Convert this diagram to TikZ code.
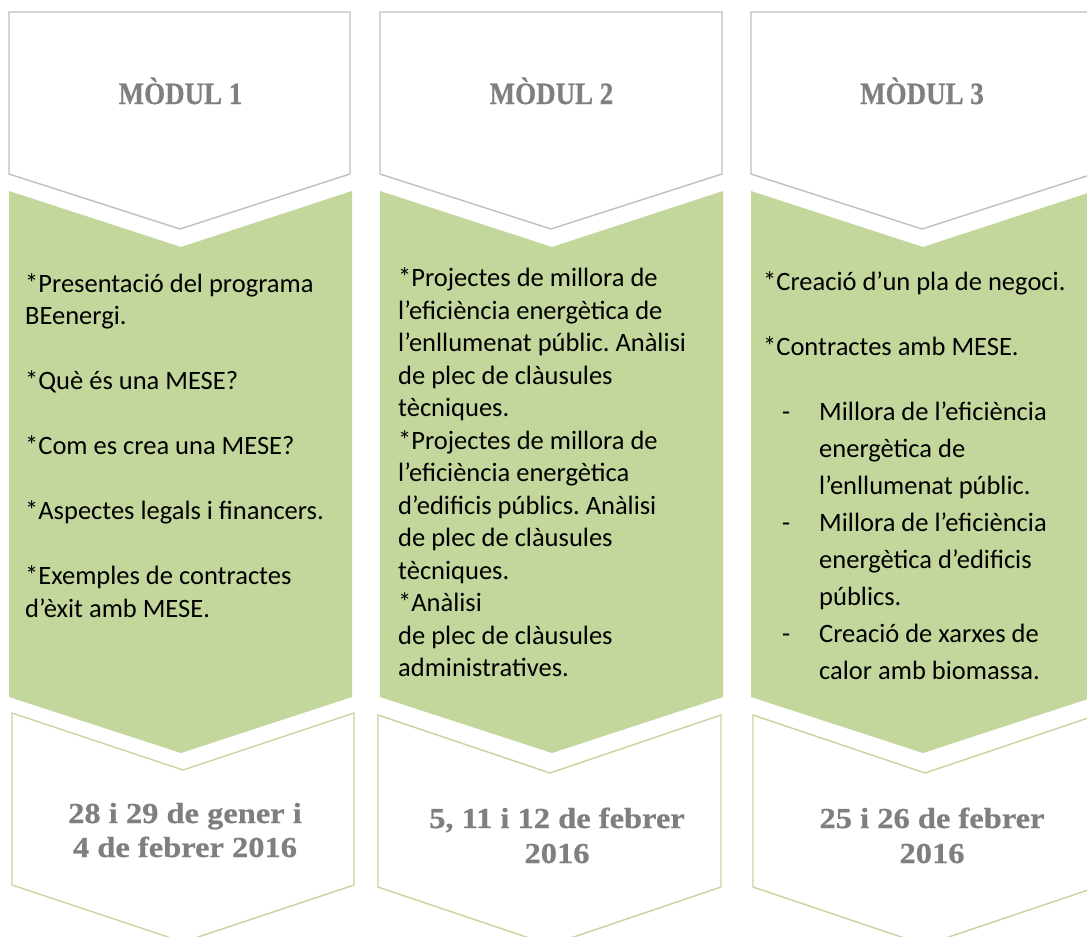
\documentclass[tikz,border=0pt]{standalone}
\usepackage{fontspec}
\setmainfont{Carlito}
\newfontfamily\headfont[FakeStretch=0.87,FakeBold=0.6]{Liberation Serif}
\newfontfamily\datefont[FakeStretch=1.12,FakeBold=0.6]{Liberation Serif}
\definecolor{grn}{HTML}{C3D69B}
\definecolor{gline}{HTML}{BFBFBF}
\definecolor{htext}{HTML}{7F7F7F}
\begin{document}
\frenchspacing
\begin{tikzpicture}[x=1pt,y=-1pt,
  topchev/.style={draw=gline, line width=1.4pt, fill=white},
  midchev/.style={fill=grn},
  botchev/.style={draw=grn, line width=1.4pt, fill=white},
  head/.style={font=\headfont\bfseries\fontsize{31}{36}\selectfont, text=htext, inner sep=0pt, anchor=base},
  datetext/.style={font=\datefont\bfseries\fontsize{29}{34}\selectfont, text=htext, inner sep=0pt, anchor=base},
  body/.style={font=\fontsize{26.5}{32.5}\selectfont, text=black, inner sep=0pt, anchor=base west}]
\useasboundingbox (0,0) rectangle (1087,937);
\fill[white] (0,0) rectangle (1087,937);

% top chevrons
\draw[topchev] (9,12) -- (350,12) -- (350,174) -- (180,229) -- (9,174) -- cycle;
\draw[topchev] (380,12) -- (722,12) -- (722,174) -- (551,229) -- (380,174) -- cycle;
\draw[topchev] (751,12) -- (1093,12) -- (1093,174) -- (922,229) -- (751,174) -- cycle;

% green chevrons
\fill[midchev] (9,191) -- (181,247) -- (352,191) -- (352,697) -- (181,753) -- (9,697) -- cycle;
\fill[midchev] (380,191) -- (552,247) -- (723,191) -- (723,697) -- (552,753) -- (380,697) -- cycle;
\fill[midchev] (751,191) -- (923,247) -- (1094,191) -- (1094,697) -- (923,753) -- (751,697) -- cycle;

% bottom chevrons
\draw[botchev] (12,713) -- (183,770) -- (354,713) -- (354,885) -- (183,942) -- (12,885) -- cycle;
\draw[botchev] (378,715) -- (550,773) -- (721,715) -- (721,887) -- (550,945) -- (378,887) -- cycle;
\draw[botchev] (753,715) -- (925,773) -- (1097,715) -- (1097,887) -- (925,945) -- (753,887) -- cycle;

% headings
\node[head] (h1) at (180.5,104) {MÒDUL 1};
\node[head] (h2) at (551.5,104) {MÒDUL 2};
\node[head] (h3) at (922,104) {MÒDUL 3};

% column 1
\foreach \t/\y [count=\i] in {*Presentació del programa/292, BEenergi./324.5, *Què és una MESE?/389.5, *Com es crea una MESE?/454.5, *Aspectes legals i financers./519.5, *Exemples de contractes/584.5, d’èxit amb MESE./617}
  \node[body] (a\i) at (25,\y) {\t};

% column 2
\foreach \t/\y [count=\i] in {*Projectes de millora de/286.7, l’eficiència energètica de/319.2, l’enllumenat públic. Anàlisi/351.7, de plec de clàusules/384.2, tècniques./416.7, *Projectes de millora de/449.2, l’eficiència energètica/481.7, d’edificis públics. Anàlisi/514.2, de plec de clàusules/546.7, tècniques./579.2, *Anàlisi/611.7, de plec de clàusules/644.2, administratives./676.7}
  \node[body] (b\i) at (398,\y) {\t};

% column 3
\node[body] (c1) at (763,290) {*Creació d’un pla de negoci.};
\node[body] (c2) at (763,355) {*Contractes amb MESE.};
\foreach \y [count=\i] in {420,531,642}
  \node[body] (d\i) at (782,\y) {-};
\foreach \t/\y [count=\i] in {Millora de l’eficiència/420, energètica de/457, l’enllumenat públic./494, Millora de l’eficiència/531, energètica d’edificis/568, públics./605, Creació de xarxes de/642, calor amb biomassa./679}
  \node[body] (e\i) at (819,\y) {\t};

% dates
\node[datetext] (t1a) at (185,823) {28 i 29 de gener i};
\node[datetext] (t1b) at (185,857) {4 de febrer 2016};
\node[datetext] (t2a) at (557,828) {5, 11 i 12 de febrer};
\node[datetext] (t2b) at (557,863) {2016};
\node[datetext] (t3a) at (932,828) {25 i 26 de febrer};
\node[datetext] (t3b) at (932,863) {2016};
\end{tikzpicture}
\end{document}
